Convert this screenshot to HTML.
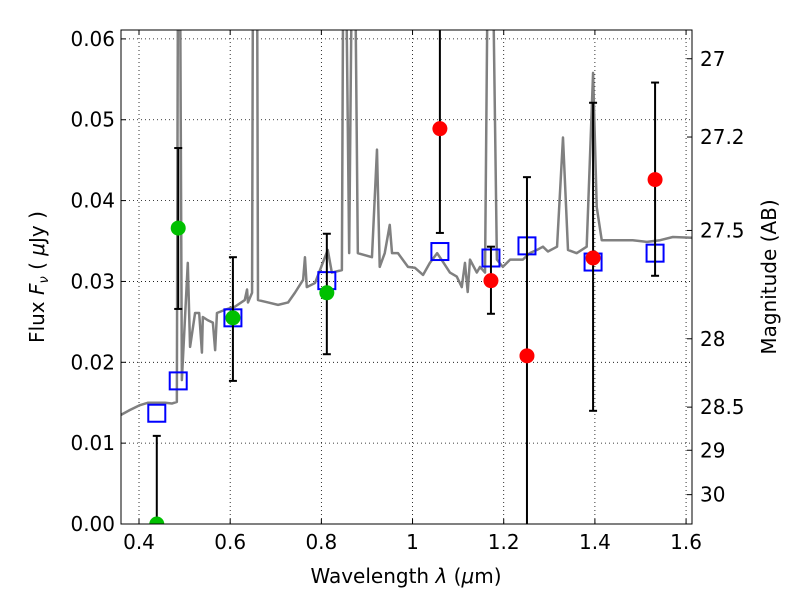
<!DOCTYPE html>
<html><head><meta charset="utf-8"><style>
body{margin:0;background:#fff;}
svg text{font-family:"DejaVu Sans","Liberation Sans",sans-serif;font-size:20px;fill:#000;}
</style></head><body>
<svg id="chart" width="800" height="600" xmlns="http://www.w3.org/2000/svg">
<g id="grid"></g>
<g id="plot"></g>
<g id="axes"></g>
<text x="406" y="583" text-anchor="middle">Wavelength  <tspan font-style="italic">λ</tspan> (<tspan font-style="italic">μ</tspan>m)</text>
<text transform="translate(44,277) rotate(-90)" text-anchor="middle">Flux  <tspan font-style="italic">F</tspan><tspan font-style="italic" font-size="13" dy="4">ν</tspan><tspan dy="-4">  ( </tspan><tspan font-style="italic">μ</tspan>Jy )</text>
<text transform="translate(776,277) rotate(-90)" text-anchor="middle">Magnitude (AB)</text>
</svg>
<script>
const specLam=[0.3605,0.380,0.402,0.420,0.457,0.472,0.483,0.4855,0.490,0.494,0.507,0.512,0.523,0.532,0.538,0.540,0.551,0.562,0.567,0.571,0.589,0.611,0.632,0.637,0.639,0.648,0.650,0.659,0.661,0.683,0.705,0.727,0.742,0.760,0.764,0.768,0.786,0.814,0.823,0.845,0.848,0.854,0.861,0.867,0.874,0.880,0.911,0.922,0.928,0.939,0.950,0.955,0.968,0.990,1.005,1.023,1.038,1.054,1.067,1.082,1.097,1.108,1.115,1.121,1.126,1.141,1.148,1.159,1.165,1.176,1.185,1.198,1.214,1.242,1.257,1.273,1.286,1.297,1.317,1.330,1.341,1.360,1.382,1.396,1.404,1.415,1.439,1.483,1.514,1.543,1.571,1.613];
const specFlux=[0.0135,0.0141,0.0147,0.0150,0.0150,0.0149,0.0151,0.07,0.07,0.0178,0.0323,0.0219,0.0261,0.0261,0.0212,0.0256,0.0252,0.0249,0.0215,0.0261,0.0265,0.0269,0.0277,0.0290,0.0274,0.0286,0.07,0.07,0.0277,0.0274,0.0271,0.0274,0.0286,0.0302,0.0330,0.0293,0.0298,0.0339,0.0311,0.0314,0.07,0.07,0.0335,0.07,0.07,0.0335,0.0330,0.0463,0.0318,0.0335,0.0370,0.0335,0.0335,0.0318,0.0317,0.0308,0.0323,0.0335,0.0324,0.0311,0.0306,0.0293,0.0323,0.0287,0.0327,0.0311,0.0318,0.0311,0.07,0.07,0.0327,0.0318,0.0327,0.0327,0.0335,0.0339,0.0343,0.0337,0.0343,0.0478,0.0339,0.0335,0.0343,0.0558,0.0392,0.0351,0.0351,0.0351,0.0349,0.0351,0.0355,0.0354];
const modelLam=[0.439,0.486,0.606,0.812,1.060,1.172,1.251,1.396,1.532];
const modelFlux=[0.0137,0.0177,0.0255,0.0301,0.0337,0.0329,0.0344,0.0324,0.0335];
const greenLam=[0.439,0.486,0.606,0.812];
const greenFlux=[0.0,0.0366,0.0255,0.0286];
const greenHi=[0.0109,0.0465,0.0330,0.0359];
const greenLo=[-0.01,0.0266,0.0177,0.0210];
const redLam=[1.060,1.172,1.251,1.396,1.532];
const redFlux=[0.0489,0.0301,0.0208,0.0329,0.0426];
const redHi=[0.07,0.0343,0.0429,0.0521,0.0546];
const redLo=[0.0360,0.0260,-0.01,0.0140,0.0307];
const xTicks=[0.4,0.6,0.8,1.0,1.2,1.4,1.6];
const xTickLabels=["0.4","0.6","0.8","1","1.2","1.4","1.6"];
const yTicks=[0,0.01,0.02,0.03,0.04,0.05,0.06];
const yTickLabels=["0.00","0.01","0.02","0.03","0.04","0.05","0.06"];
const magTicks=[27,27.2,27.5,28,28.5,29,30];
const magTickLabels=["27","27.2","27.5","28","28.5","29","30"];

const L=121,R=692,T=30,B=524;
const xMin=0.3605,xMax=1.613,yMin=0,yMax=0.0611;
const X=v=>L+(v-xMin)/(xMax-xMin)*(R-L);
const Y=v=>B-(v-yMin)/(yMax-yMin)*(B-T);
const NS="http://www.w3.org/2000/svg";
function mk(tag,parent,attrs){const e=document.createElementNS(NS,tag);for(const k in attrs)e.setAttribute(k,attrs[k]);parent.appendChild(e);return e;}
const grid=document.getElementById('grid'),plot=document.getElementById('plot'),axes=document.getElementById('axes');
const svg=document.getElementById('chart');
const defs=mk('defs',svg,{});const cp=mk('clipPath',defs,{id:'clip'});mk('rect',cp,{x:L,y:T,width:R-L,height:B-T});
plot.setAttribute('clip-path','url(#clip)');

xTicks.forEach((v,i)=>{
  const g=mk('line',grid,{x1:X(v),x2:X(v),y1:T,y2:B,stroke:'#000','stroke-width':0.8,'stroke-dasharray':'1,3'});
  
  
  mk('line',axes,{x1:X(v),x2:X(v),y1:B,y2:B-5,stroke:'#000'});
  mk('line',axes,{x1:X(v),x2:X(v),y1:T,y2:T+5,stroke:'#000'});
  const t=mk('text',axes,{x:X(v),y:B+25,'text-anchor':'middle'});t.textContent=xTickLabels[i];
  
  
});
yTicks.forEach((v,i)=>{
  const g=mk('line',grid,{x1:L,x2:R,y1:Y(v),y2:Y(v),stroke:'#000','stroke-width':0.8,'stroke-dasharray':'1,3'});
  
  
  mk('line',axes,{x1:L,x2:L+5,y1:Y(v),y2:Y(v),stroke:'#000'});
  const t=mk('text',axes,{x:L-6,y:Y(v)+7,'text-anchor':'end'});t.textContent=yTickLabels[i];
  
  
});
magTicks.forEach((m,i)=>{
  const f=Math.pow(10,(23.9-m)/2.5);const y=Y(f);
  mk('line',axes,{x1:R,x2:R-5,y1:y,y2:y,stroke:'#000'});
  const t=mk('text',axes,{x:R+8,y:y+7,'text-anchor':'start'});t.textContent=magTickLabels[i];
  
  
});

const sp=mk('polyline',plot,{points:specLam.map((l,i)=>X(l)+','+Y(specFlux[i])).join(' '),fill:'none',stroke:'#808080','stroke-width':2.5,'stroke-linejoin':'round'});



modelLam.forEach((l,i)=>{
  const r=mk('rect',plot,{x:X(l)-8.5,y:Y(modelFlux[i])-8.5,width:17,height:17,fill:'none',stroke:'#0000ff','stroke-width':2});
  
  
});
function errs(lams,fl,hi,lo,color,name){
  lams.forEach((l,i)=>{
    const x=X(l);
    const e=mk('g',plot,{});
    
    
    mk('line',e,{x1:x,x2:x,y1:Y(hi[i]),y2:Y(lo[i]),stroke:'#000','stroke-width':2});
    mk('line',e,{x1:x-4,x2:x+4,y1:Y(hi[i]),y2:Y(hi[i]),stroke:'#000','stroke-width':2});
    mk('line',e,{x1:x-4,x2:x+4,y1:Y(lo[i]),y2:Y(lo[i]),stroke:'#000','stroke-width':2});
    const c=mk('circle',plot,{cx:x,cy:Y(fl[i]),r:7.5,fill:color});
    
    
  });
}
errs(greenLam,greenFlux,greenHi,greenLo,'#00c000','green');
errs(redLam,redFlux,redHi,redLo,'#ff0000','red');

const fr=mk('rect',axes,{x:L,y:T,width:R-L,height:B-T,fill:'none',stroke:'#000','stroke-width':1});


</script>
</body></html>
